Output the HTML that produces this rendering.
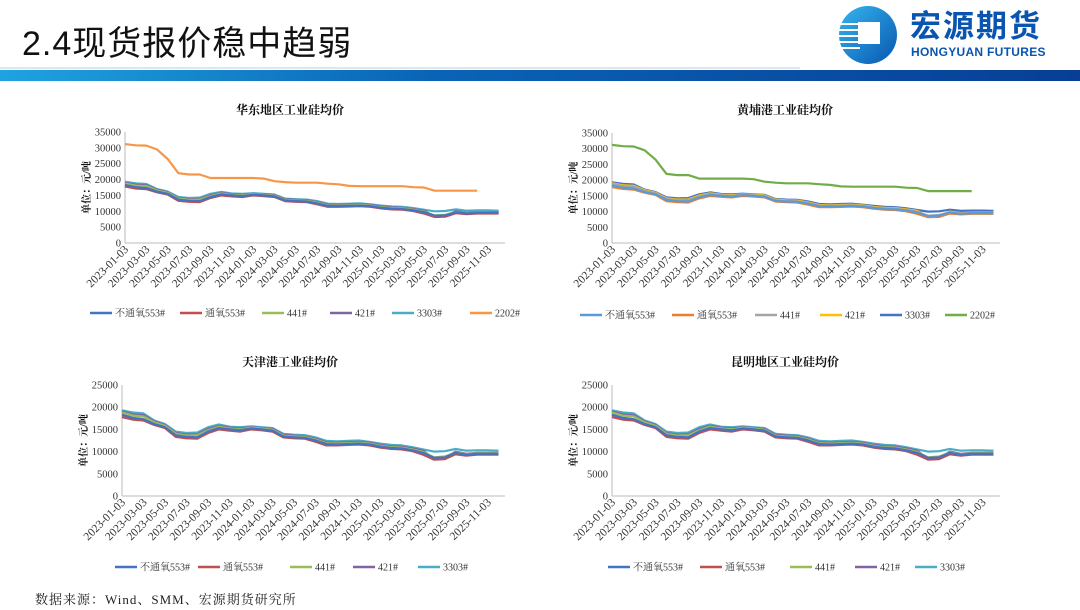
<!DOCTYPE html>
<html><head><meta charset="utf-8">
<style>
html,body{margin:0;padding:0;background:#fff;}
#page{position:relative;width:1080px;height:610px;overflow:hidden;font-family:"Liberation Sans","Noto Sans CJK SC",sans-serif;}
#title{position:absolute;left:22px;top:16px;font-size:34px;color:#111;font-family:"Liberation Sans","Noto Sans CJK SC",sans-serif;letter-spacing:1px;}
#bar{position:absolute;left:0;top:70px;width:1080px;height:11px;background:linear-gradient(90deg,#1fa3e0 0%,#0a64b5 40%,#083e96 100%);}
#bar2{position:absolute;left:0;top:67px;width:800px;height:2px;background:#dfe6ee;}
#logo-text{position:absolute;left:910px;top:2px;font-size:31px;font-weight:bold;color:#0a55b0;font-family:"Noto Sans CJK SC",sans-serif;letter-spacing:2px;line-height:44px;}
#logo-en{position:absolute;left:911px;top:45px;font-size:12px;font-weight:bold;color:#0a55b0;font-family:"Liberation Sans",sans-serif;letter-spacing:0.3px;line-height:14px;}
#source{position:absolute;left:35px;top:589px;font-size:13px;color:#222;font-family:"Liberation Serif","Noto Serif CJK SC",serif;letter-spacing:1px;}
svg text{font-family:"Liberation Serif","Noto Serif CJK SC",serif;}
</style></head>
<body>
<div id="page">
<div id="title">2.4现货报价稳中趋弱</div>
<div id="bar2"></div>
<div id="bar"></div>
<svg style="position:absolute;left:830px;top:4px" width="78" height="62">
<defs><linearGradient id="lg" x1="0" y1="0" x2="1" y2="1"><stop offset="0" stop-color="#36b6ee"/><stop offset="1" stop-color="#0756b0"/></linearGradient></defs>
<circle cx="38" cy="31" r="29" fill="url(#lg)"/>
<g stroke="#fff" stroke-width="2"><line x1="6" y1="20" x2="30" y2="20"/><line x1="4" y1="26" x2="30" y2="26"/><line x1="4" y1="32" x2="30" y2="32"/><line x1="5" y1="38" x2="30" y2="38"/><line x1="8" y1="44" x2="30" y2="44"/></g>
<rect x="28" y="18" width="22" height="22" fill="#fff"/>
</svg>
<div id="logo-text">宏源期货</div>
<div id="logo-en">HONGYUAN FUTURES</div>
<svg id="charts" style="position:absolute;left:0;top:0" width="1080" height="610"></svg>
<div id="source">数据来源：Wind、SMM、宏源期货研究所</div>
</div>
<script>
const months = ["2023-01","2023-02","2023-03","2023-04","2023-05","2023-06","2023-07","2023-08","2023-09","2023-10","2023-11","2023-12","2024-01","2024-02","2024-03","2024-04","2024-05","2024-06","2024-07","2024-08","2024-09","2024-10","2024-11","2024-12","2025-01","2025-02","2025-03","2025-04","2025-05","2025-06","2025-07","2025-08","2025-09","2025-10","2025-11","2025-12"];
const tickLabels = ["2023-01-03","2023-03-03","2023-05-03","2023-07-03","2023-09-03","2023-11-03","2024-01-03","2024-03-03","2024-05-03","2024-07-03","2024-09-03","2024-11-03","2025-01-03","2025-03-03","2025-05-03","2025-07-03","2025-09-03","2025-11-03"];
const seriesNames = ["不通氧553#","通氧553#","441#","421#","3303#","2202#"];
const s553n = [18300,17600,17300,16200,15500,13700,13300,13200,14500,15300,15000,14800,15200,15000,14700,13400,13200,13100,12500,11700,11600,11700,11800,11600,11100,10800,10700,10300,9700,8600,8700,9700,9300,9500,9500,9500];
const s553o = [17800,17200,17000,16000,15300,13300,13000,12900,14200,15000,14700,14500,15000,14800,14500,13200,13000,12900,12200,11400,11400,11500,11600,11400,10900,10600,10500,10100,9300,8200,8300,9400,9100,9300,9300,9300];
const s441 = [18800,18100,17900,16600,15800,14000,13600,13700,14800,15600,15200,15000,15400,15200,14900,13600,13400,13300,12700,11900,11800,11900,12000,11800,11300,11000,10900,10500,9900,8700,8900,9800,9400,9600,9600,9600];
const s421 = [19000,18400,18200,16800,16000,14200,13800,13900,15100,15800,15400,15200,15500,15300,15100,13800,13600,13500,12900,12100,12000,12100,12200,12000,11500,11200,11100,10700,10200,8400,8500,10000,9500,9700,9700,9700];
const s3303 = [19300,18800,18600,17000,16200,14500,14200,14300,15500,16100,15600,15500,15700,15500,15300,14000,13800,13700,13200,12400,12300,12400,12500,12200,11800,11500,11400,11000,10500,10000,10100,10600,10200,10300,10300,10200];
const s2202 = [31200,30800,30700,29500,26500,22000,21600,21600,20500,20500,20500,20500,20500,20300,19500,19200,19000,19000,19000,18700,18500,18000,17900,17900,17900,17900,17900,17600,17500,16500,16500,16500,16500,16500];
const yTicks35 = [0,5000,10000,15000,20000,25000,30000,35000];
const yTicks25 = [0,5000,10000,15000,20000,25000];

const colA = ["#4472C4","#C0504D","#9BBB59","#8064A2","#4BACC6","#F79646"];
const colB = ["#5B9BD5","#ED7D31","#A5A5A5","#FFC000","#4472C4","#70AD47"];
const NS="http://www.w3.org/2000/svg";
const root=document.getElementById('charts');
function el(tag,attrs,parent){const e=document.createElementNS(NS,tag);for(const k in attrs)e.setAttribute(k,attrs[k]);(parent||root).appendChild(e);return e;}

const charts=[
 {name:"east-china-chart",title:"华东地区工业硅均价",x0:125,x1:505,yTop:132,yBot:243,ymax:35000,ticks:yTicks35,cols:colA,n:6,legY:313,legX:[90,180,262,330,392,470],tx:290,ty:114},
 {name:"huangpu-chart",title:"黄埔港工业硅均价",x0:612,x1:1000,yTop:133,yBot:243,ymax:35000,ticks:yTicks35,cols:colB,n:6,legY:315,legX:[580,672,755,820,880,945],tx:785,ty:114},
 {name:"tianjin-chart",title:"天津港工业硅均价",x0:122,x1:505,yTop:385,yBot:496,ymax:25000,ticks:yTicks25,cols:colA,n:5,legY:567,legX:[115,198,290,353,418],tx:290,ty:366},
 {name:"kunming-chart",title:"昆明地区工业硅均价",x0:612,x1:1000,yTop:385,yBot:496,ymax:25000,ticks:yTicks25,cols:colA,n:5,legY:567,legX:[608,700,790,855,915],tx:785,ty:366}
];
const data=[s553n,s553o,s441,s421,s3303,s2202];

charts.forEach(c=>{
  const g=el('g',{});
  
  
  const xs=i=>c.x0+i*(c.x1-c.x0)/35.6;
  const ys=v=>c.yBot-v/c.ymax*(c.yBot-c.yTop);
  const t=el('text',{x:c.tx,y:c.ty,'text-anchor':'middle','font-size':12,'font-weight':'bold',fill:'#111'},g);
  t.textContent=c.title;
  
  
  const yt=el('text',{transform:`translate(${c.x0-35},${(c.yTop+c.yBot)/2}) rotate(-90)`,'text-anchor':'middle','font-size':10,'font-weight':'bold',fill:'#111'},g);
  yt.textContent="单位：元/吨";
  
  
  c.ticks.forEach(v=>{
    const tl=el('text',{x:c.x0-4,y:ys(v)+3.5,'text-anchor':'end','font-size':10.5,fill:'#333'},g);
    tl.textContent=v;
    
    
  });
  el('line',{x1:c.x0,y1:c.yTop,x2:c.x0,y2:c.yBot,stroke:'#bbb','stroke-width':1},g);
  el('line',{x1:c.x0,y1:c.yBot,x2:c.x1,y2:c.yBot,stroke:'#bbb','stroke-width':1},g);
  tickLabels.forEach((lab,k)=>{
    const x=xs(k*2);
    const tl=el('text',{transform:`translate(${x+4},${c.yBot+7}) rotate(-45)`,'text-anchor':'end','font-size':11.5,fill:'#333'},g);
    tl.textContent=lab;
    
    
  });
  for(let s=c.n-1;s>=0;s--){
    const arr=data[s];
    let d='';
    arr.forEach((v,i)=>{d+=(i?'L':'M')+xs(i).toFixed(1)+','+ys(v).toFixed(1);});
    const p=el('path',{d:d,fill:'none',stroke:c.cols[s],'stroke-width':2.2,'stroke-linejoin':'round'},g);
    
    
  }
  for(let s=0;s<c.n;s++){
    const lx=c.legX[s];
    const ln=el('line',{x1:lx,y1:c.legY,x2:lx+22,y2:c.legY,stroke:c.cols[s],'stroke-width':2.5},g);
    
    
    const lt=el('text',{x:lx+25,y:c.legY+3.5,'font-size':10,fill:'#333'},g);
    lt.textContent=seriesNames[s];
    
    
  }
});
</script>
</body></html>
